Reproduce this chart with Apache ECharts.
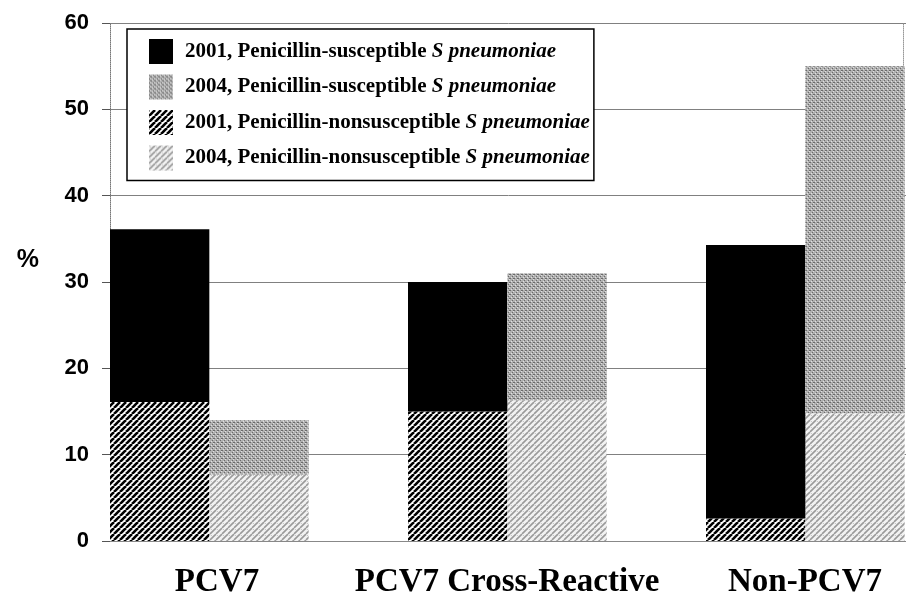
<!DOCTYPE html>
<html><head><meta charset="utf-8">
<script src="https://cdn.jsdelivr.net/npm/echarts@6/dist/echarts.min.js"></script>
<style>html,body{margin:0;padding:0;background:#fff}#c{width:906px;height:594px}</style>
</head><body><div id="c"></div>
<script>
const categories = ['PCV7', 'PCV7 Cross-Reactive', 'Non-PCV7'];
const susc2001 = [20, 15, 31.7];
const nonsusc2001 = [16.1, 15, 2.6];
const susc2004 = [6.3, 14.7, 40.2];
const nonsusc2004 = [7.7, 16.3, 14.8];
const yTicks = [0, 10, 20, 30, 40, 50, 60];
const names = ['2001, Penicillin-susceptible', '2004, Penicillin-susceptible',
               '2001, Penicillin-nonsusceptible', '2004, Penicillin-nonsusceptible'];

function tile(size, draw) {
  const c = document.createElement('canvas');
  c.width = size; c.height = size;
  const g = c.getContext('2d');
  draw(g, size);
  return { image: c, repeat: 'repeat' };
}
const darkHatch = tile(6, (g, s) => {
  g.fillStyle = '#fff'; g.fillRect(0, 0, s, s);
  g.strokeStyle = '#000'; g.lineWidth = 2.6;
  for (const o of [-s, 0, s]) { g.beginPath(); g.moveTo(o, s); g.lineTo(o + s, 0); g.stroke(); }
});
const grayDots = tile(4, (g, s) => {
  g.fillStyle = '#b0b0b0'; g.fillRect(0, 0, s, s);
  g.fillStyle = '#6a6a6a';
  g.fillRect(0, 0, 1, 1); g.fillRect(2, 2, 1, 1); g.fillRect(1, 2, 1, 1);
  g.fillStyle = '#e0e0e0';
  g.fillRect(3, 1, 1, 1); g.fillRect(1, 3, 1, 1);
});
const lightHatch = tile(6, (g, s) => {
  g.fillStyle = '#f2f2f2'; g.fillRect(0, 0, s, s);
  g.strokeStyle = '#9a9a9a'; g.lineWidth = 1.6;
  for (const o of [-s, 0, s]) { g.beginPath(); g.moveTo(o, s); g.lineTo(o + s, 0); g.stroke(); }
  g.fillStyle = '#c8c8c8'; g.fillRect(1, 1, 1, 1);
});

const chart = echarts.init(document.getElementById('c'), null, { renderer: 'canvas' });
chart.setOption({
  animation: false,
  backgroundColor: '#fff',
  grid: { left: 110, top: 23, height: 518, width: 894, containLabel: false, outerBoundsMode: 'none' },
  legend: {
    data: names,
    orient: 'vertical', left: 127, top: 29,
    itemWidth: 24, itemHeight: 25, itemGap: 10.5,
    padding: [10, 4, 10, 22],
    borderColor: '#000', borderWidth: 1.5, backgroundColor: '#fff',
    icon: 'rect',
    formatter: n => '{a|' + n + ' }{b|S pneumoniae}',
    textStyle: {
      rich: {
        a: { fontFamily: 'Liberation Serif', fontWeight: 'bold', fontSize: 21, color: '#000', padding: [0, 0, 0, 7] },
        b: { fontFamily: 'Liberation Serif', fontWeight: 'bold', fontStyle: 'italic', fontSize: 21, color: '#000' }
      }
    }
  },
  xAxis: {
    type: 'category',
    data: categories.map((c, i) => ({ value: c, textStyle: { padding: [0, i === 0 ? 84 : 100, 0, 0] } })),
    axisLine: { lineStyle: { color: '#888', width: 1 } },
    axisTick: { show: false },
    axisLabel: {
      interval: 0, margin: 25, padding: [0, 100, 0, 0],
      fontFamily: 'Liberation Serif', fontWeight: 'bold', fontSize: 33, color: '#000'
    }
  },
  yAxis: [{
    type: 'value', min: 0, max: 60, interval: 10,
    name: '%', nameLocation: 'middle', nameGap: 71, nameRotate: 0,
    nameTextStyle: { fontFamily: 'Liberation Sans', fontWeight: 'bold', fontSize: 25, color: '#000',
      verticalAlign: 'bottom', lineHeight: 44 },
    axisLine: { show: true, lineStyle: { color: '#777', type: 'dotted', width: 1 } },
    axisTick: { show: true, length: 8, lineStyle: { color: '#555' } },
    axisLabel: {
      margin: 21, fontFamily: 'Liberation Sans', fontWeight: 'bold', fontSize: 22, color: '#000',
      formatter: v => yTicks.includes(v) ? String(v) : ''
    },
    splitLine: { show: true, lineStyle: { color: '#808080', width: 1 } }
  }, {
    type: 'value', min: 0, max: 60, interval: 10, position: 'right', offset: -101,
    axisLine: { show: true, lineStyle: { color: '#999', type: 'dotted', width: 1 } },
    axisTick: { show: false }, axisLabel: { show: false }, splitLine: { show: false }
  }],
  series: [
    { name: names[2], type: 'bar', stack: 'y2001', data: nonsusc2001, barGap: '0%', barCategoryGap: '0%',
      itemStyle: { color: darkHatch } },
    { name: names[3], type: 'bar', stack: 'y2004', data: nonsusc2004,
      itemStyle: { color: lightHatch } },
    { name: names[0], type: 'bar', stack: 'y2001', data: susc2001,
      itemStyle: { color: '#000' } },
    { name: names[1], type: 'bar', stack: 'y2004', data: susc2004,
      itemStyle: { color: grayDots } },
    { name: 'spacer', type: 'bar', stack: 'spacer', data: [0, 0, 0],
      itemStyle: { color: 'rgba(0,0,0,0)' }, silent: true }
  ]
});
</script></body></html>
